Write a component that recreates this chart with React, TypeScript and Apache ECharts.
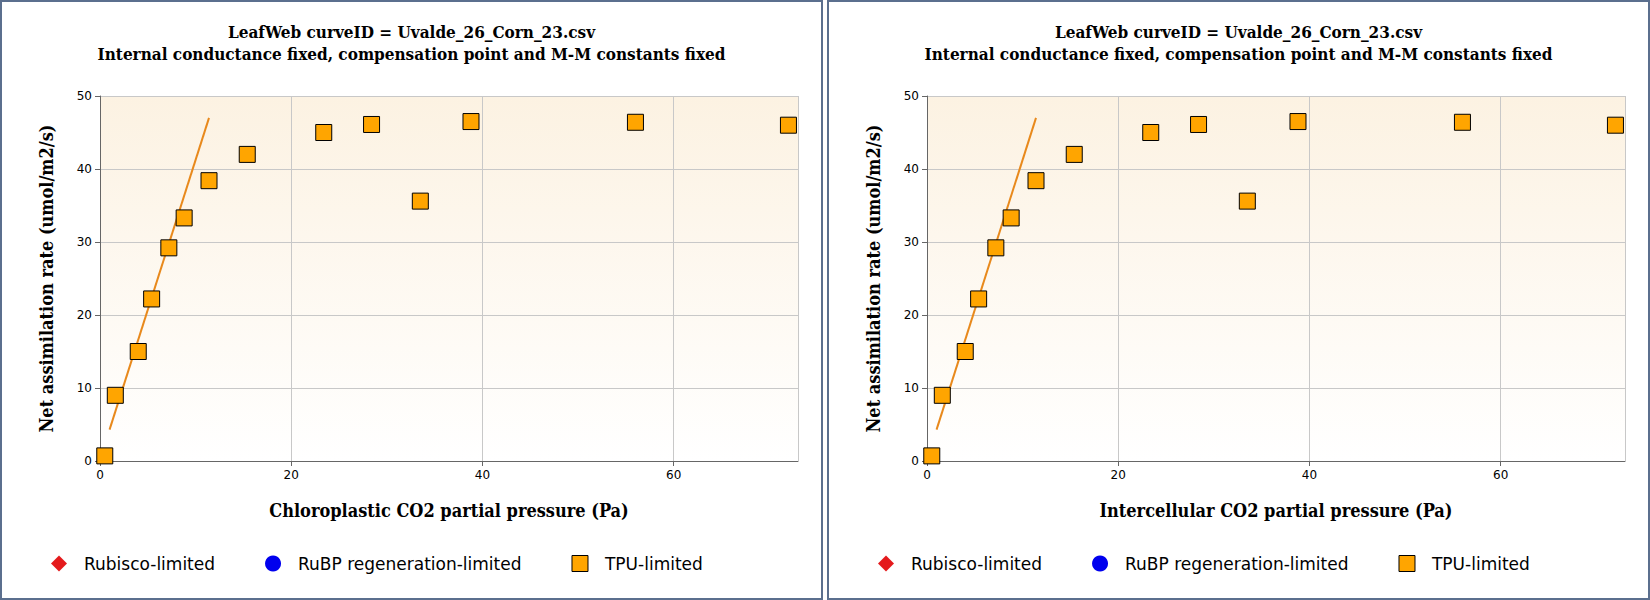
import { useEffect, useRef } from 'react'
import * as echarts from 'echarts'

// measured points (Ci/Cc Pa, A umol/m2/s)
const xValues = [0.5, 1.6, 4.0, 5.4, 7.2, 8.8, 11.4, 15.4, 23.4, 28.4, 33.5, 38.8, 56.0, 72.0]
const yValues = [0.7, 9.0, 15.0, 22.2, 29.2, 33.3, 38.4, 42.0, 45.0, 46.1, 35.6, 46.5, 46.4, 46.0]
// fitted limitation line (two end points)
const fitX = [1.0, 11.4]
const fitY = [4.3, 47.0]
const xTitles = ['Chloroplastic CO2 partial pressure (Pa)', 'Intercellular CO2 partial pressure (Pa)']
const legendNames = ['Rubisco-limited', 'RuBP regeneration-limited', 'TPU-limited']

const serif = 'DejaVu Serif Condensed, Liberation Serif, serif'
const sans = 'DejaVu Sans, sans-serif'

function Panel({ xTitle }: { xTitle: string }) {
  const ref = useRef<HTMLDivElement>(null)

  useEffect(() => {
    if (!ref.current) return
    const chart = echarts.init(ref.current, null, { renderer: 'svg' })
    chart.setOption({
      animation: false,
      title: {
        text: 'LeafWeb curveID = Uvalde_26_Corn_23.csv\nInternal conductance fixed, compensation point and M-M constants fixed',
        left: 'center',
        top: 14,
        textStyle: { fontFamily: serif, fontSize: 17, fontWeight: 'bold', color: '#000', lineHeight: 22 }
      },
      grid: {
        left: 98, right: 23, top: 94, bottom: 137,
        show: true,
        borderWidth: 0,
        backgroundColor: new echarts.graphic.LinearGradient(0, 0, 0, 1, [
          { offset: 0, color: '#fcf2e2' },
          { offset: 1, color: '#ffffff' }
        ])
      },
      legend: {
        data: [
          { name: legendNames[0], icon: 'diamond', itemStyle: { color: '#e41a1c', opacity: 1 } },
          { name: legendNames[1], icon: 'circle', itemStyle: { color: '#0000ee', opacity: 1 } },
          { name: legendNames[2], icon: 'rect', itemStyle: { color: '#ffa500', borderColor: '#000', borderWidth: 1, opacity: 1 } }
        ],
        left: 44,
        top: 548,
        itemWidth: 16,
        itemHeight: 16,
        itemGap: 50,
        textStyle: { fontFamily: sans, fontSize: 17, color: '#000', padding: [0, 0, 0, 12] }
      },
      xAxis: {
        type: 'value',
        min: 0,
        max: 73,
        interval: 20,
        name: xTitle,
        nameLocation: 'middle',
        nameGap: 40,
        nameTextStyle: { fontFamily: serif, fontSize: 18, fontWeight: 'bold', color: '#000' },
        axisLine: { lineStyle: { color: '#666' } },
        axisTick: { show: true, lineStyle: { color: '#666' } },
        axisLabel: { fontFamily: sans, fontSize: 12, color: '#000', showMaxLabel: false },
        splitLine: { lineStyle: { color: '#c8c8c8' } }
      },
      yAxis: {
        type: 'value',
        min: 0,
        max: 50,
        interval: 10,
        name: 'Net assimilation rate (umol/m2/s)',
        nameLocation: 'middle',
        nameGap: 45,
        nameTextStyle: { fontFamily: serif, fontSize: 18, fontWeight: 'bold', color: '#000' },
        axisLine: { show: true, lineStyle: { color: '#666' } },
        axisTick: { show: true, lineStyle: { color: '#666' } },
        axisLabel: { fontFamily: sans, fontSize: 12, color: '#000' },
        splitLine: { lineStyle: { color: '#c8c8c8' } }
      },
      series: [
        { name: legendNames[0], type: 'scatter', data: [], itemStyle: { color: '#e41a1c', opacity: 1 } },
        { name: legendNames[1], type: 'scatter', data: [], itemStyle: { color: '#0000ee', opacity: 1 } },
        {
          name: 'fit',
          type: 'line',
          data: fitX.map((x, i) => [x, fitY[i]]),
          symbol: 'none',
          lineStyle: { color: '#e8891c', width: 2 },
          z: 1
        },
        {
          name: legendNames[2],
          type: 'scatter',
          symbol: 'rect',
          symbolSize: 16,
          data: xValues.map((x, i) => [x, yValues[i]]),
          itemStyle: { color: '#ffa500', borderColor: '#000', borderWidth: 1, opacity: 1 },
          z: 3
        }
      ]
    })
    return () => chart.dispose()
  }, [xTitle])

  return (
    <div style={{ width: 819, height: 596, border: '2px solid #5b6f8e', background: '#fff' }}>
      <div ref={ref} style={{ width: 819, height: 596 }} />
    </div>
  )
}

export default function App() {
  return (
    <div style={{ position: 'fixed', left: 0, top: 0, width: 1650, height: 600, display: 'flex', gap: 4, background: '#fff' }}>
      {xTitles.map(t => <Panel key={t} xTitle={t} />)}
    </div>
  )
}
